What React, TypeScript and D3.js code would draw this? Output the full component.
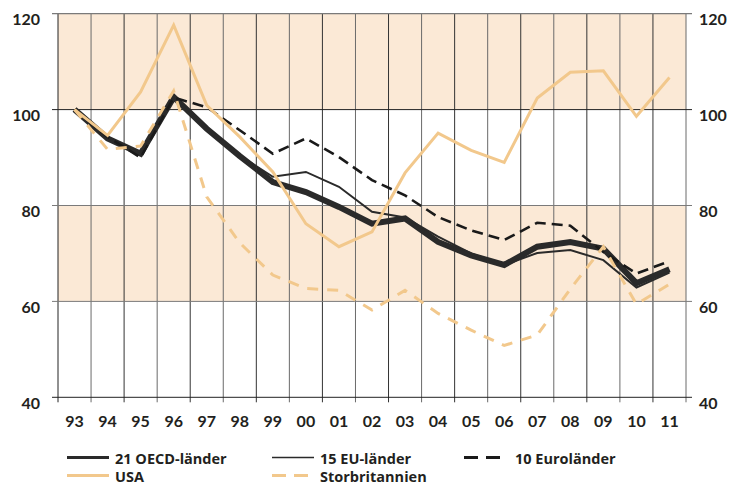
import React from "react";
import * as d3 from "d3";

const years = ["93","94","95","96","97","98","99","00","01","02","03","04","05","06","07","08","09","10","11"];
const oecd21 = [100, 94, 90.8, 102.6, 96, 90.3, 84.9, 82.8, 79.7, 76.2, 77.3, 72.4, 69.6, 67.6, 71.4, 72.4, 71.0, 63.8, 66.7];
const eu15 = [100, 94.2, 90.6, 103, 96.2, 90.4, 86, 87, 83.9, 78.7, 77.5, 73.5, 70.0, 67.6, 70.1, 70.7, 68.6, 62.9, 66.0];
const euro10 = [100, 94.3, 90, 102.5, 100.5, 95.7, 90.8, 94, 90.1, 85.3, 82.1, 77.6, 74.8, 72.8, 76.4, 75.8, 70.3, 65.8, 68.4];
const usa = [100, 94.6, 103.7, 117.6, 100.9, 94.3, 87, 76.2, 71.4, 74.5, 86.8, 95.1, 91.5, 89, 102.4, 107.8, 108.1, 98.6, 106.7];
const uk = [100, 91.7, 92.4, 103.9, 81.8, 72.2, 65.5, 62.7, 62.3, 58.2, 62.3, 57.5, 54, 50.8, 53, 62.6, 71.4, 59.4, 63.6];
const yTicks = [40, 60, 80, 100, 120];
const shadedBands = [[60, 80], [100, 120]];

const legendItems = [
  { label: "21 OECD-länder", data: "oecd" },
  { label: "15 EU-länder", data: "eu" },
  { label: "10 Euroländer", data: "euro" },
  { label: "USA", data: "usa" },
  { label: "Storbritannien", data: "uk" },
];

const ORANGE = "#f2c88c";
const DARK = "#2a2a2a";
const TEXT = "#231f20";
const SHADE = "#fbe9d6";
const FONT = "Lato, 'Open Sans', sans-serif";
const LEGEND_FONT = "'Open Sans', Lato, sans-serif";

const styles: Record<string, { stroke: string; width: number; dash?: string }> = {
  oecd: { stroke: DARK, width: 6 },
  eu: { stroke: DARK, width: 2 },
  euro: { stroke: "#1a1a1a", width: 2.6, dash: "11 6" },
  usa: { stroke: ORANGE, width: 3 },
  uk: { stroke: ORANGE, width: 3, dash: "11 9" },
};

export default function App() {
  const x = d3.scaleBand<string>().domain(years).range([58, 686]);
  const y = d3.scaleLinear().domain([40, 120]).range([397.3, 13.7]);
  const cx = (yr: string) => (x(yr) as number) + x.bandwidth() / 2;
  const line = d3
    .line<number>()
    .x((_, i) => cx(years[i]))
    .y((d) => y(d));

  const series: Record<string, number[]> = { oecd: oecd21, eu: eu15, euro: euro10, usa, uk };
  const drawOrder = ["oecd", "eu", "euro", "usa", "uk"];

  const boundaries = years.map((yr) => x(yr) as number).concat([x.range()[1]]);

  const legendPos = [
    { lx: 67, tx: 115, ly: 457.5 },
    { lx: 272, tx: 320, ly: 457.5 },
    { lx: 464, tx: 515, ly: 457.5 },
    { lx: 67, tx: 115, ly: 475.5 },
    { lx: 272, tx: 320, ly: 475.5 },
  ];

  return (
    <svg
      width={732}
      height={486}
      style={{ position: "absolute", left: 0, top: 0, background: "#fff" }}
      fontFamily={FONT}
    >
      {shadedBands.map(([a, b], i) => (
        <rect key={i} x={58} y={y(b)} width={686 - 58} height={y(a) - y(b)} fill={SHADE} />
      ))}
      {boundaries.map((bx, i) => (
        <line
          key={"v" + i}
          x1={bx}
          x2={bx}
          y1={y(120)}
          y2={y(40) + 5}
          stroke={i === 0 ? "#222" : i % 2 === 1 ? "#6a6a6a" : "#333"}
          strokeWidth={1}
        />
      ))}
      {yTicks.map((t) => (
        <line
          key={"h" + t}
          x1={52}
          x2={692}
          y1={y(t)}
          y2={y(t)}
          stroke={t === 100 || t === 40 ? "#222" : "#7a7a7a"}
          strokeWidth={t === 120 ? 1.3 : 1}
        />
      ))}
      {yTicks.map((t) => (
        <g key={"l" + t}>
          <text
            x={40}
            y={y(t) + 6}
            dy="0.35em"
            textAnchor="end"
            fontSize={16}
            fontWeight={700}
            fill={TEXT}
          >
            {t}
          </text>
          <text
            x={699}
            y={y(t) + 6}
            dy="0.35em"
            textAnchor="start"
            fontSize={16}
            fontWeight={700}
            fill={TEXT}
          >
            {t}
          </text>
        </g>
      ))}
      {years.map((yr) => (
        <text
          key={"x" + yr}
          x={cx(yr)}
          y={421.5}
          dy="0.35em"
          textAnchor="middle"
          fontSize={16}
          fontWeight={700}
          fill={TEXT}
        >
          {yr}
        </text>
      ))}
      {drawOrder.map((k) => (
        <path
          key={k}
          d={line(series[k]) || ""}
          fill="none"
          stroke={styles[k].stroke}
          strokeWidth={styles[k].width}
          strokeDasharray={styles[k].dash}
          strokeLinejoin="miter"
          strokeLinecap="butt"
        />
      ))}
      {legendItems.map((it, i) => {
        const p = legendPos[i];
        const s = styles[it.data];
        const dashed = !!s.dash;
        return (
          <g key={"lg" + i}>
            {dashed ? (
              <>
                <line x1={p.lx} x2={p.lx + 14} y1={p.ly} y2={p.ly} stroke={s.stroke} strokeWidth={3} />
                <line x1={p.lx + 22} x2={p.lx + 36} y1={p.ly} y2={p.ly} stroke={s.stroke} strokeWidth={3} />
              </>
            ) : (
              <line
                x1={p.lx}
                x2={p.lx + 42}
                y1={p.ly}
                y2={p.ly}
                stroke={s.stroke}
                strokeWidth={it.data === "eu" ? 1.5 : 3}
              />
            )}
            <text
              x={p.tx}
              y={p.ly + 1.5}
              dy="0.35em"
              fontSize={14.5}
              fontWeight={700}
              fontFamily={LEGEND_FONT}
              fill={TEXT}
            >
              {it.label}
            </text>
          </g>
        );
      })}
    </svg>
  );
}
